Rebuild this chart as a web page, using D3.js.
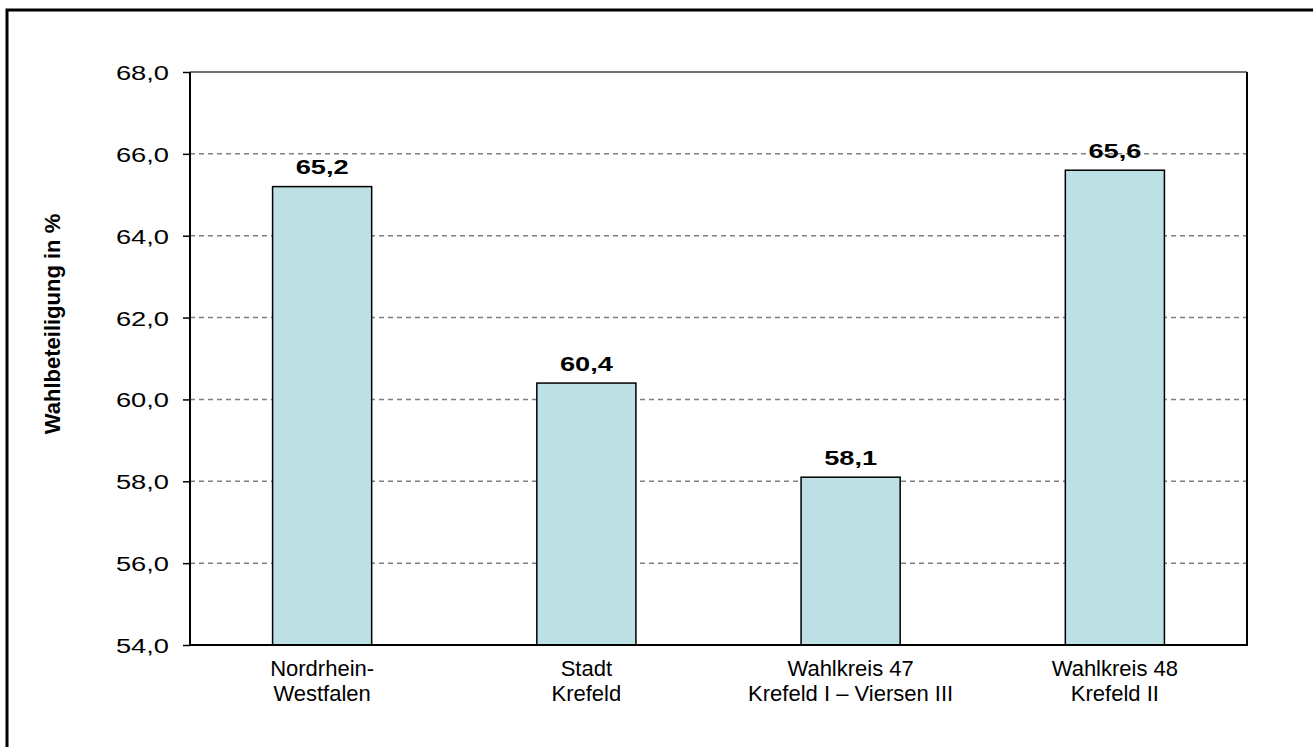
<!DOCTYPE html>
<html>
<head>
<meta charset="utf-8">
<script src="https://cdn.jsdelivr.net/npm/d3@7/dist/d3.min.js"></script>
<style>
  html, body { margin: 0; padding: 0; background: #fff; overflow: hidden; }
  svg { display: block; }
</style>
</head>
<body>
<svg id="chart" width="1313" height="747"></svg>
<script>
const categories = [
  ["Nordrhein-", "Westfalen"],
  ["Stadt", "Krefeld"],
  ["Wahlkreis 47", "Krefeld I \u2013 Viersen III"],
  ["Wahlkreis 48", "Krefeld II"]
];
const values = [65.2, 60.4, 58.1, 65.6];
const yTicks = [54, 56, 58, 60, 62, 64, 66, 68];
const yTitle = "Wahlbeteiligung in %";

(function () {
const fmt = v => d3.format(".1f")(v).replace(".", ",");

const svg = d3.select("#chart");
const pL = 190, pR = 1247, pT = 72, pB = 645;

// outer frame (extends beyond the window on right and bottom)
svg.append("rect")
  .attr("x", 7).attr("y", 10)
  .attr("width", 1400).attr("height", 900)
  .attr("fill", "none").attr("stroke", "#000").attr("stroke-width", 3);

const x = d3.scaleBand()
  .domain(d3.range(categories.length))
  .range([pL, pR])
  .paddingInner(0.625)
  .paddingOuter(0.3125);

const y = d3.scaleLinear().domain([54, 68]).range([pB, pT]);

// gridlines
svg.append("g").selectAll("line")
  .data(yTicks.filter(t => t > 54 && t < 68))
  .join("line")
  .attr("x1", pL).attr("x2", pR)
  .attr("y1", d => y(d)).attr("y2", d => y(d))
  .attr("stroke", "#808080").attr("stroke-width", 1.5)
  .attr("stroke-dasharray", "5,4");

// top line of plot area
svg.append("line")
  .attr("x1", pL).attr("x2", pR)
  .attr("y1", y(68)).attr("y2", y(68))
  .attr("stroke", "#444").attr("stroke-width", 1.5);

// bars
svg.append("g").selectAll("rect")
  .data(values)
  .join("rect")
  .attr("x", (d, i) => x(i))
  .attr("width", x.bandwidth())
  .attr("y", d => y(d))
  .attr("height", d => y(54) - y(d))
  .attr("fill", "#bce0e3")
  .attr("stroke", "#000").attr("stroke-width", 1.5);

// value labels
svg.append("g").selectAll("text")
  .data(values)
  .join("text")
  .attr("transform", (d, i) => `translate(${x(i) + x.bandwidth() / 2},${y(d) - 12.5}) scale(1.36,1)`)
  .attr("text-anchor", "middle")
  .attr("font-family", "Liberation Sans, Arial, sans-serif")
  .attr("font-weight", "bold")
  .attr("font-size", 20)
  .attr("fill", "#000")
  .text(d => fmt(d));

// frame: left, right, bottom
svg.append("path")
  .attr("d", `M${pL},${pT} V${pB} H${pR} V${pT}`)
  .attr("fill", "none").attr("stroke", "#000").attr("stroke-width", 2);

// y axis ticks and labels
const yAxis = d3.axisLeft(y).tickValues(yTicks).tickSize(7).tickFormat(fmt);
const gy = svg.append("g").attr("transform", `translate(${pL},0)`).call(yAxis);
gy.select(".domain").remove();
gy.selectAll(".tick line").attr("stroke", "#000").attr("stroke-width", 1.5);
gy.selectAll(".tick text").remove();
gy.selectAll(".tick").append("text")
  .attr("transform", "translate(-21,7.5) scale(1.3,1)")
  .attr("text-anchor", "end")
  .attr("font-family", "Liberation Sans, Arial, sans-serif")
  .attr("font-size", 21)
  .attr("fill", "#000")
  .text(d => fmt(d));

// x labels
const xl = svg.append("g").selectAll("text")
  .data(categories)
  .join("text")
  .attr("x", (d, i) => x(i) + x.bandwidth() / 2)
  .attr("y", 676)
  .attr("text-anchor", "middle")
  .attr("font-family", "Liberation Sans, Arial, sans-serif")
  .attr("font-size", 22)
  .attr("fill", "#000");
xl.each(function (d) {
  const t = d3.select(this);
  const cx = t.attr("x");
  d.forEach((line, i) => {
    t.append("tspan").attr("x", cx).attr("dy", i === 0 ? 0 : 25).text(line);
  });
});

// y title
svg.append("text")
  .attr("transform", "translate(60,324) rotate(-90)")
  .attr("text-anchor", "middle")
  .attr("font-family", "Liberation Sans, Arial, sans-serif")
  .attr("font-weight", "bold")
  .attr("font-size", 22)
  .attr("fill", "#000")
  .text(yTitle);
})();
</script>
</body>
</html>
